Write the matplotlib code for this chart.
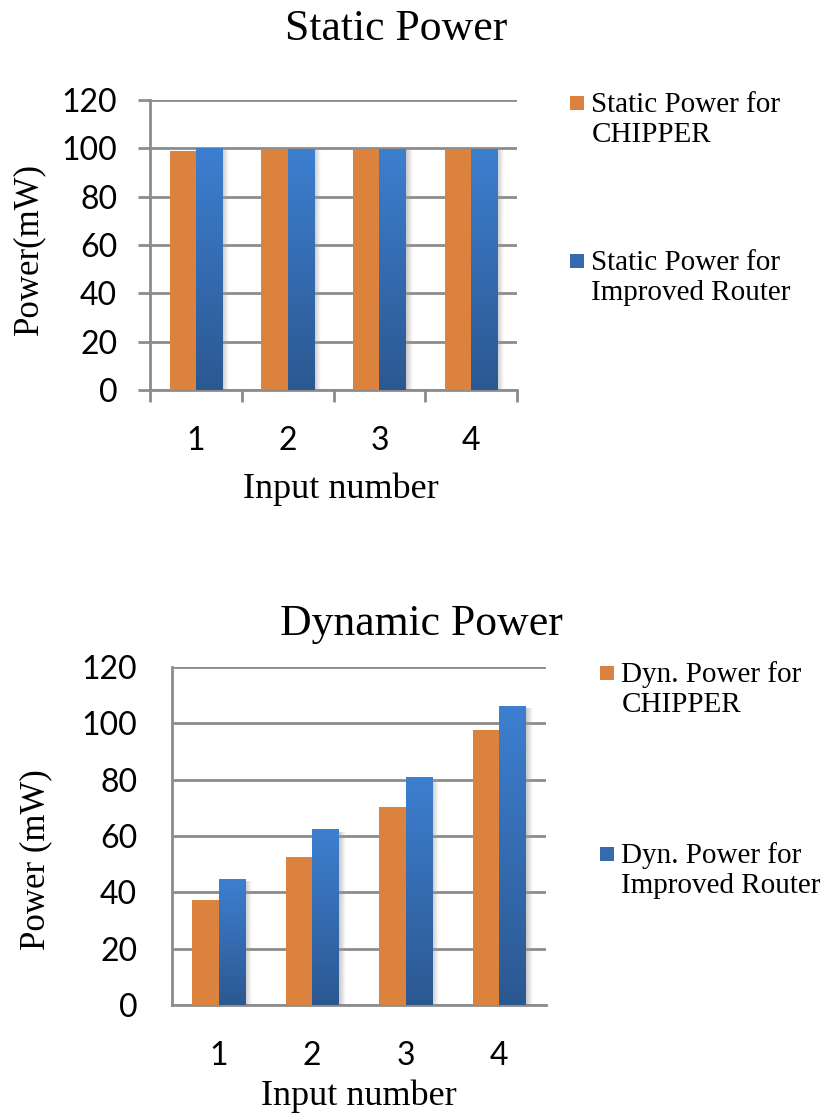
import numpy as np
import matplotlib
matplotlib.use("Agg")
import matplotlib.pyplot as plt
from matplotlib.patches import Rectangle
from matplotlib.container import BarContainer
from matplotlib.legend_handler import HandlerPatch, update_from_first_child
from matplotlib.colors import LinearSegmentedColormap

# data
inputs = [1, 2, 3, 4]
static_chipper = [98.9, 99.7, 99.6, 99.6]
static_improved = [100.0, 99.9, 99.9, 99.9]
dyn_chipper = [37.2, 52.6, 70.3, 97.8]
dyn_improved = [44.7, 62.4, 80.9, 106.1]

ORANGE = '#DC823F'
BLUE = '#3669AE'
GRID = '#8c8c8c'
SERIF = 'Liberation Serif'
SANS = 'Lato'
TICK_FS = 23

blue_grad = LinearSegmentedColormap.from_list('bg', ['#2C5891', '#3D7FD0'])
shadow_grad = LinearSegmentedColormap.from_list('sh', [(0.6, 0.6, 0.6, 0.55), (0.6, 0.6, 0.6, 0.0)])

width = 1 / 3.5


# legend key next to the first line of a two-line label
def square_top(legend, orig_handle, xdescent, ydescent, width, height, fontsize):
    s = 0.48 * fontsize
    return Rectangle((0, 0.68 * fontsize), s, s)


def draw_panel(ax, chipper, improved, labels, title, title_xy, ylabel, boxed_ticks):
    x = np.array(inputs, dtype=float)
    ax.bar(x - width / 2, chipper, width, color=ORANGE, label=labels[0], zorder=3)
    b2 = ax.bar(x + width / 2, improved, width, color=BLUE, label=labels[1], zorder=3)
    # gradient fill + soft right shadow on the blue bars
    for r in b2:
        x0, h, w = r.get_x(), r.get_height(), r.get_width()
        im = ax.imshow(np.linspace(0, 1, 256).reshape(-1, 1), cmap=blue_grad, origin='lower',
                       extent=[x0, x0 + w, 0, h], aspect='auto', zorder=4)
        im.set_clip_path(r)
        ax.imshow(np.linspace(0, 1, 64).reshape(1, -1), cmap=shadow_grad,
                  extent=[x0 + w, x0 + w + 0.07, 0, h - 1.0], aspect='auto', zorder=2)
    ax.set_xlim(0.5, 4.5)
    ax.set_ylim(0, 120)
    ax.set_yticks(range(0, 121, 20))
    ax.yaxis.grid(True, color=GRID, lw=2, zorder=0)
    ax.set_axisbelow(True)
    for s in ['top', 'right']:
        ax.spines[s].set_visible(False)
    for s in ['left', 'bottom']:
        ax.spines[s].set_color(GRID)
        ax.spines[s].set_linewidth(2)
    ax.set_xticks([0.5, 1.5, 2.5, 3.5, 4.5])
    ax.set_xticklabels([])
    ax.set_xticks(inputs, minor=True)
    ax.set_xticklabels([str(i) for i in inputs], minor=True, fontsize=TICK_FS, family=SANS)
    ax.tick_params(axis='x', which='minor', length=0, pad=26)
    if boxed_ticks:
        ax.tick_params(axis='x', which='major', length=8.6, width=2, color=GRID, direction='out')
        ax.tick_params(axis='y', length=8.6, width=2, color=GRID, pad=15)
    else:
        ax.tick_params(axis='x', which='major', length=0)
        ax.tick_params(axis='y', length=0, pad=25)
    for t in ax.get_yticklabels():
        t.set_fontsize(TICK_FS)
        t.set_family(SANS)
    ax.set_title(title, fontsize=31.5, family=SERIF, x=title_xy[0], y=title_xy[1], pad=0)
    ax.set_ylabel(ylabel, fontsize=25, family=SERIF, va='center')
    ax.set_xlabel('Input number', fontsize=26, family=SERIF, va='baseline')


fig = plt.figure(figsize=(8.25, 11.16), dpi=100)
W, H = 825.0, 1116.0

# top panel: x 150-517, y 100-390 px
ax1 = fig.add_axes([150 / W, 1 - 390 / H, 367 / W, 290 / H])
draw_panel(ax1, static_chipper, static_improved,
           ['Static Power for\nCHIPPER', 'Static Power for\nImproved Router'],
           'Static Power', (0.672, 1.207), 'Power(mW)', True)
ax1.xaxis.set_label_coords(0.52, -0.372)
ax1.yaxis.set_label_coords(-0.330, 0.486)

# bottom panel: x 172-546, y 667-1005 px
ax2 = fig.add_axes([172 / W, 1 - 1005 / H, 374 / W, 338 / H])
draw_panel(ax2, dyn_chipper, dyn_improved,
           ['Dyn. Power for\nCHIPPER', 'Dyn. Power for\nImproved Router'],
           'Dynamic Power', (0.668, 1.095), 'Power (mW)', False)
ax2.xaxis.set_label_coords(0.5, -0.296)
ax2.yaxis.set_label_coords(-0.364, 0.429)

hm = {BarContainer: HandlerPatch(patch_func=square_top, update_func=update_from_first_child)}
for ax, anchor, spacing in [(ax1, (570 / W, 1 - 92 / H), 3.5), (ax2, (600 / W, 1 - 661 / H), 4.25)]:
    h, l = ax.get_legend_handles_labels()
    ax.legend(h, l, loc='upper left', bbox_to_anchor=anchor, bbox_transform=fig.transFigure,
              frameon=False, borderpad=0, borderaxespad=0, handlelength=0.48,
              handletextpad=0.25, labelspacing=spacing, handler_map=hm,
              prop={'family': SERIF, 'size': 21})

fig.savefig('out.png', dpi=100)
